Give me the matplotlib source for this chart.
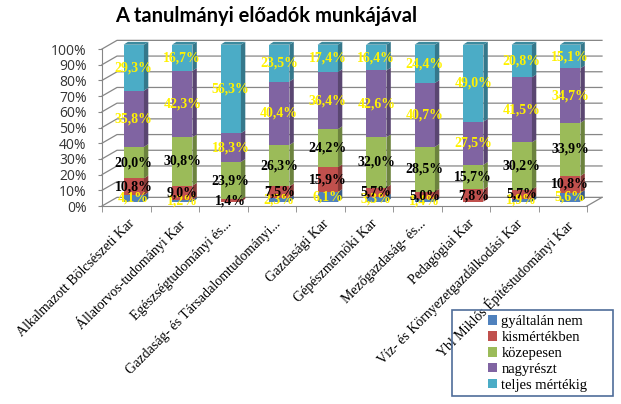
import numpy as np
import matplotlib.pyplot as plt
from matplotlib.colors import to_rgb
from matplotlib.patches import Polygon, Rectangle

categories = ['Alkalmazott Bölcsészeti Kar', 'Állatorvos-tudományi Kar',
              'Egészségtudományi és...', 'Gazdaság- és Társadalomtudományi...',
              'Gazdasági Kar', 'Gépészmérnöki Kar', 'Mezőgazdaság- és...',
              'Pedagógiai Kar', 'Víz- és Környezetgazdálkodási Kar',
              'Ybl Miklós Építéstudományi Kar']
series_names = ['gyáltalán nem', 'kismértékben', 'közepesen', 'nagyrészt',
                'teljes mértékig']
gyaltalan_nem = [4.1, 1.2, 0.0, 2.3, 6.1, 3.3, 1.4, 0.0, 1.9, 5.6]
kismertekben = [10.8, 9.0, 1.4, 7.5, 15.9, 5.7, 5.0, 7.8, 5.7, 10.8]
kozepesen = [20.0, 30.8, 23.9, 26.3, 24.2, 32.0, 28.5, 15.7, 30.2, 33.9]
nagyreszt = [35.8, 42.3, 18.3, 40.4, 36.4, 42.6, 40.7, 27.5, 41.5, 34.7]
teljes = [29.3, 16.7, 56.3, 23.5, 17.4, 16.4, 24.4, 49.0, 20.8, 15.1]
yticks = list(range(0, 101, 10))

colors = ['#4F81BD', '#C0504D', '#9BBB59', '#8064A2', '#4BACC6']
label_colors = ['#FFF200', 'black', 'black', '#FFF200', '#FFF200']

plt.rcParams['font.family'] = ['Liberation Serif', 'DejaVu Serif']

W, H = 621, 404
fig = plt.figure(figsize=(W / 100, H / 100), dpi=100)

# pixel geometry of the front plot area
x0_px, x1_px = 102, 604
y0_px = 206
px_per_cat = 48.5
px_per_pct = 1.57
ymax = 108
ax = fig.add_axes([x0_px / W, (H - y0_px) / H, (x1_px - x0_px) / W,
                   ymax * px_per_pct / H])
xmax = -0.5 + (x1_px - x0_px) / px_per_cat
ax.set_xlim(-0.5, xmax)
ax.set_ylim(0, ymax)
for s in ['top', 'right']:
    ax.spines[s].set_visible(False)
ax.spines['left'].set_bounds(0, 100)
ax.spines['bottom'].set_bounds(-0.5, 9.5)
for s in ['left', 'bottom']:
    ax.spines[s].set_color('#868686')

# back wall offsets (data units)
dxb, dyb = 15 / px_per_cat, 5.5
grid_c = '#868686'
for v in yticks:
    ax.plot([-0.5, -0.5 + dxb, 9.5 + dxb], [v, v + dyb, v + dyb],
            color=grid_c, lw=0.9, zorder=1, clip_on=False)
ax.plot([9.5, 9.5 + dxb], [0, dyb], color=grid_c, lw=0.9, zorder=1)

# bars
data = np.array([gyaltalan_nem, kismertekben, kozepesen, nagyreszt, teljes])
data = data / data.sum(axis=0) * 100
offx, offy = dxb / 2, dyb / 2
bw = 0.42
sdx, sdy = 0.09, 1.8
xs = np.arange(len(categories))
bottoms = np.zeros(len(categories)) + offy
raw = [gyaltalan_nem, kismertekben, kozepesen, nagyreszt, teljes]
for k in range(len(series_names)):
    c = np.array(to_rgb(colors[k]))
    vals = data[k]
    ax.bar(xs + offx, vals, bw, bottom=bottoms, color=colors[k],
           zorder=3, linewidth=0)
    for i in range(len(xs)):
        if vals[i] <= 0:
            continue
        r = xs[i] + offx + bw / 2
        b, t = bottoms[i], bottoms[i] + vals[i]
        ax.add_patch(Polygon([[r, b], [r + sdx, b + sdy], [r + sdx, t + sdy],
                              [r, t]], closed=True, fc=c * 0.7, lw=0,
                             zorder=3))
        if k == len(series_names) - 1:
            l = xs[i] + offx - bw / 2
            ax.add_patch(Polygon([[l, t], [l + sdx, t + sdy],
                                  [r + sdx, t + sdy], [r, t]], closed=True,
                                 fc=c * 0.8, lw=0, zorder=3))
        txt = f'{raw[k][i]:.1f}%'.replace('.', ',')
        ax.text(xs[i] + offx, b + vals[i] / 2, txt, ha='center',
                va='center', fontsize=10, fontweight='bold',
                color=label_colors[k], zorder=5)
    bottoms = bottoms + vals

ax.set_yticks(yticks)
ax.set_yticklabels([f'{v}%' for v in yticks], fontsize=10,
                   family='Open Sans', color='#333333')
ax.tick_params(axis='y', length=3, color=grid_c, pad=8)
ax.set_xticks(xs + 0.04)
ax.set_xticklabels(categories, rotation=45, ha='right',
                   rotation_mode='anchor', fontsize=10)
ax.tick_params(axis='x', length=0, pad=8)
ax.set_xticks(np.arange(-0.5, 10, 1), minor=True)
ax.tick_params(axis='x', which='minor', length=4, color=grid_c)

fig.text(266 / W, 1 - 16 / H, 'A tanulmányi előadók munkájával',
         ha='center', va='center', fontsize=14.5, fontweight='bold',
         family='Lato')

# legend
handles = [Rectangle((0, 0), 1, 1, fc=c, lw=0) for c in colors]
leg = fig.legend(handles, series_names, loc='upper left',
                 bbox_to_anchor=(478 / W, 1 - 305 / H), frameon=False,
                 fontsize=10.5, handlelength=0.6, handleheight=0.6,
                 handletextpad=0.3, labelspacing=0.2, borderpad=0.2)
fig.patches.append(Rectangle((452 / W, 1 - 396 / H), 161 / W, 86 / H,
                             transform=fig.transFigure, fill=False,
                             ec='#4F6D9A', lw=1.2))

fig.savefig('out.png', dpi=100)
